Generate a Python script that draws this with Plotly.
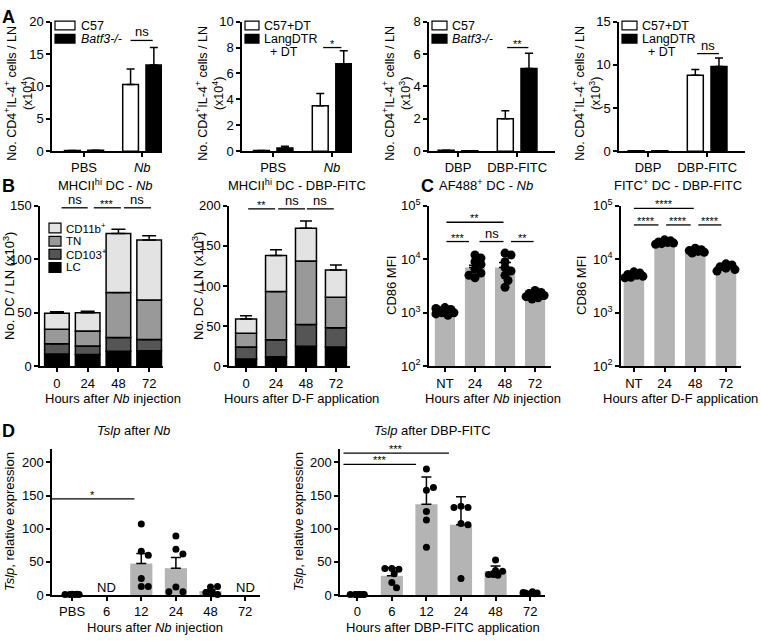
import numpy as np
import plotly.graph_objects as go

W, H = 761, 643
FONT = "Liberation Sans, Arial, Helvetica, sans-serif"
GRAY = "#b4b4b4"

# ---------------- DATA ----------------
# Panel A
a1_cats = ["PBS", "<i>Nb</i>"]
a1_c57 = [0.1, 10.3]
a1_c57_err = [0.0, 2.4]
a1_batf3 = [0.15, 13.3]
a1_batf3_err = [0.0, 2.7]

a2_cats = ["PBS", "<i>Nb</i>"]
a2_c57dt = [0.05, 3.5]
a2_c57dt_err = [0.0, 0.95]
a2_lang = [0.25, 6.75]
a2_lang_err = [0.12, 1.0]

a3_cats = ["DBP", "DBP-FITC"]
a3_c57 = [0.05, 2.0]
a3_c57_err = [0.0, 0.5]
a3_batf3 = [0.03, 5.1]
a3_batf3_err = [0.0, 0.95]

a4_cats = ["DBP", "DBP-FITC"]
a4_c57dt = [0.05, 8.8]
a4_c57dt_err = [0.0, 0.65]
a4_lang = [0.05, 9.8]
a4_lang_err = [0.0, 1.0]

# Panel B (stacked DC subsets, x10^3)
b_hours = ["0", "24", "48", "72"]
b_subsets = ["LC", "CD103<sup>+</sup>", "TN", "CD11b<sup>+</sup>"]
b_colors = ["#000000", "#555555", "#999999", "#e3e3e3"]
b1_lc = [11.5, 11, 14, 14.5]
b1_lc_err = [1, 2, 1, 1.5]
b1_cd103 = [9.5, 8, 13, 10.5]
b1_cd103_err = [1, 1, 1.5, 1]
b1_tn = [13.5, 14, 42, 37]
b1_tn_err = [1.5, 1.5, 1, 3]
b1_cd11b = [15, 17, 55, 56]
b1_cd11b_err = [1.5, 1.5, 4, 4]

b2_lc = [9, 12, 25, 24]
b2_lc_err = [1, 1.5, 5, 1]
b2_cd103 = [15, 21, 27, 24]
b2_cd103_err = [2, 3.5, 3, 1.5]
b2_tn = [17, 60, 79, 38]
b2_tn_err = [3, 9, 12, 8]
b2_cd11b = [18, 45, 41, 34]
b2_cd11b_err = [4, 7, 9, 6]

# Panel C (CD86 MFI)
c_cats = ["NT", "24", "48", "72"]
c1_mean = [1070, 7000, 7000, 2150]
c1_err = [80, 700, 1700, 100]
c1_dots = [[1250, 1150, 1000, 950, 900, 1000, 1100, 1200],
           [12000, 10500, 9000, 8000, 6500, 5500, 4500, 5000],
           [13000, 12000, 9000, 7000, 6000, 5000, 4000, 3000],
           [2600, 2400, 2300, 2200, 2100, 2000, 1900, 1800]]
c2_mean = [5000, 20500, 14300, 7000]
c2_err = [200, 500, 400, 300]
c2_dots = [[5800, 5500, 5200, 5000, 4800, 4600, 4500],
           [23000, 22000, 21000, 20500, 20000, 19500, 19000],
           [16000, 15000, 14500, 14000, 13500, 13000],
           [8200, 7800, 7200, 6800, 6400, 6000]]

# Panel D (Tslp relative expression)
d1_cats = ["PBS", "6", "12", "24", "48", "72"]
d1_mean = [1.0, None, 47.5, 40.5, 6.0, None]
d1_err = [0.2, 0, 15, 16, 2.2, 0]
d1_dots = [[1.2, 0.8, 1.0, 1.1, 0.9, 1.0], [], [107, 66, 60, 25, 13, 13],
           [89, 69, 62, 12, 5, 5], [12, 13, 4, 2, 1, 3], []]
d1_nd = ["", "ND", "", "", "", "ND"]
d2_cats = ["0", "6", "12", "24", "48", "72"]
d2_mean = [1.0, 29, 137, 106, 36, 3]
d2_err = [0.3, 12, 41, 42, 8, 1.5]
d2_dots = [[1, 1, 1, 1, 1, 1], [40, 39, 40, 32, 19, 11],
           [190, 158, 162, 126, 113, 72], [134, 132, 132, 108, 106, 25],
           [53, 37, 36, 31, 30, 31], [2, 3, 4, 5, 3, 2]]

# ---------------- FIGURE ----------------
fig = go.Figure()
layout = {}
shapes, annots = [], []
P = {}


def axid(n):
    return "" if n == 1 else str(n)


def panel(name, n, xpx, ypx, xr, yr, xlabels, yticks, ylog=False, yticktext=None):
    P[name] = dict(n=n, xpx=xpx, ypx=ypx, xr=xr, yr=yr, log=ylog)
    common = dict(showline=True, linecolor="black", linewidth=1.5, ticks="outside",
                  ticklen=4, tickwidth=1.5, tickcolor="black", showgrid=False,
                  zeroline=False, fixedrange=True,
                  tickfont=dict(family=FONT, size=13, color="black"))
    layout["xaxis" + axid(n)] = dict(common, domain=[xpx[0] / W, xpx[1] / W], range=list(xr),
                                     anchor="y" + axid(n), tickmode="array",
                                     tickvals=list(range(len(xlabels))), ticktext=xlabels)
    ya = dict(common, domain=[1 - ypx[1] / H, 1 - ypx[0] / H], anchor="x" + axid(n),
              tickmode="array", tickvals=yticks)
    if ylog:
        ya.update(type="log", range=[np.log10(yr[0]), np.log10(yr[1])], ticktext=yticktext)
    else:
        ya.update(range=list(yr))
    layout["yaxis" + axid(n)] = ya


def xpix(name, xv):
    p = P[name]
    f = (xv - p["xr"][0]) / (p["xr"][1] - p["xr"][0])
    return p["xpx"][0] + f * (p["xpx"][1] - p["xpx"][0])


def ypix(name, v):
    p = P[name]
    if p["log"]:
        lo, hi = np.log10(p["yr"][0]), np.log10(p["yr"][1])
        f = (np.log10(v) - lo) / (hi - lo)
    else:
        f = (v - p["yr"][0]) / (p["yr"][1] - p["yr"][0])
    return p["ypx"][1] - f * (p["ypx"][1] - p["ypx"][0])


def txt(x, y, s, size=13, angle=0, xanchor="center", yanchor="middle", yshift=0):
    annots.append(dict(x=x / W, y=1 - y / H, xref="paper", yref="paper", text=s,
                       showarrow=False, textangle=angle, xanchor=xanchor, yanchor=yanchor,
                       yshift=yshift, font=dict(family=FONT, size=size, color="black")))


def hline(x0, x1, y, width=1.5):
    shapes.append(dict(type="line", xref="paper", yref="paper", x0=x0 / W, x1=x1 / W,
                       y0=1 - y / H, y1=1 - y / H, line=dict(color="black", width=width)))


def box(x0, x1, y0, y1, color):
    shapes.append(dict(type="rect", xref="paper", yref="paper", x0=x0 / W, x1=x1 / W,
                       y0=1 - y1 / H, y1=1 - y0 / H, fillcolor=color,
                       line=dict(color="black", width=1.2)))


def sig(name, x0, x1, v, s):
    xa, xb = xpix(name, x0), xpix(name, x1)
    yy = ypix(name, v)
    hline(xa, xb, yy, 1.3)
    if "*" in s:
        txt((xa + xb) / 2, yy, s, size=11, yanchor="bottom", yshift=-4)
    else:
        txt((xa + xb) / 2, yy, s, size=13, yanchor="bottom", yshift=-1)


def bar(name, x, y, width, offset, color, err=None, line=None, base=None, capw=4):
    n = P[name]["n"]
    kw = dict(x=x, y=y, width=width, offset=offset,
              marker=dict(color=color, line=dict(color=line or color, width=1.5 if line else 0)),
              xaxis="x" + axid(n), yaxis="y" + axid(n), showlegend=False, hoverinfo="skip")
    if base is not None:
        kw["base"] = base
    if err is not None:
        kw["error_y"] = dict(type="data", array=err, arrayminus=[0] * len(err), symmetric=False,
                             color="black", thickness=1.5, width=capw)
    fig.add_trace(go.Bar(**kw))


def swarm(name, pos, vals, d, maxoff, mind):
    p = P[name]
    ppu = (p["xpx"][1] - p["xpx"][0]) / (p["xr"][1] - p["xr"][0])
    step = d / 3
    cands = [0.0]
    for k in range(1, int(maxoff / step) + 1):
        cands += [k * step, -k * step]
    placed, xs = [], []
    for v in vals:
        yp = ypix(name, v)
        best, bestd = 0.0, -1
        for c in cands:
            md = min([np.hypot(c - a, yp - b) for a, b in placed], default=1e9)
            if md >= mind:
                best = c
                break
            if md > bestd:
                bestd, best = md, c
        placed.append((best, yp))
        xs.append(pos + best / ppu)
    return xs


def dots(name, groups, d, maxoff, mind):
    n = P[name]["n"]
    xs, ys = [], []
    for i, g in enumerate(groups):
        if len(g):
            xs += swarm(name, i, g, d, maxoff, mind)
            ys += list(g)
    fig.add_trace(go.Scatter(x=xs, y=ys, mode="markers", cliponaxis=False,
                             marker=dict(color="black", size=d, line=dict(width=0)),
                             xaxis="x" + axid(n), yaxis="y" + axid(n), showlegend=False,
                             hoverinfo="skip"))


# ---- Panel A ----
AY = (13, 146)
panel("A1", 1, (52, 162), AY, (-0.55, 1.34), (0, 20), a1_cats, [0, 5, 10, 15, 20])
panel("A2", 2, (242, 352), AY, (-0.53, 1.34), (0, 10), a2_cats, [0, 2, 4, 6, 8, 10])
panel("A3", 3, (429, 555), AY, (-0.49, 1.64), (0, 8), a3_cats, [0, 2, 4, 6, 8])
panel("A4", 4, (619, 745), AY, (-0.49, 1.64), (0, 15), a4_cats, [0, 5, 10, 15])

BW = 0.27
for name, cats, w_vals, w_err, b_vals, b_err in [
        ("A1", a1_cats, a1_c57, a1_c57_err, a1_batf3, a1_batf3_err),
        ("A2", a2_cats, a2_c57dt, a2_c57dt_err, a2_lang, a2_lang_err),
        ("A3", a3_cats, a3_c57, a3_c57_err, a3_batf3, a3_batf3_err),
        ("A4", a4_cats, a4_c57dt, a4_c57dt_err, a4_lang, a4_lang_err)]:
    xs = list(range(len(cats)))
    bar(name, xs, w_vals, BW, -0.335, "white", err=w_err, line="black", capw=4)
    bar(name, xs, b_vals, BW, 0.065, "black", err=b_err, line="black", capw=4)

sig("A1", 0.8, 1.18, 17.1, "ns")
sig("A2", 0.85, 1.16, 8.0, "*")
sig("A3", 0.83, 1.19, 6.4, "**")
sig("A4", 0.83, 1.2, 11.3, "ns")

# legends A
L1, L2, L3 = 17, 30.5, 44
LF = 12.5
box(55, 75, L1 - 4.5, L1 + 4.5, "white"); txt(79, L1, "C57", size=LF, xanchor="left")
box(55, 75, L2 - 4.5, L2 + 4.5, "black"); txt(79, L2, "<i>Batf3-/-</i>", size=LF, xanchor="left")
box(245, 259, L1 - 4.5, L1 + 4.5, "white"); txt(262, L1, "C57+DT", size=LF, xanchor="left")
box(245, 259, L2 - 4.5, L2 + 4.5, "black"); txt(262, L2, "LangDTR", size=LF, xanchor="left")
txt(268, L3, "+ DT", size=LF, xanchor="left")
box(432, 447, L1 - 4.5, L1 + 4.5, "white"); txt(450, L1, "C57", size=LF, xanchor="left")
box(432, 447, L2 - 4.5, L2 + 4.5, "black"); txt(450, L2, "<i>Batf3-/-</i>", size=LF, xanchor="left")
box(622, 637, L1 - 4.5, L1 + 4.5, "white"); txt(640, L1, "C57+DT", size=LF, xanchor="left")
box(622, 637, L2 - 4.5, L2 + 4.5, "black"); txt(640, L2, "LangDTR", size=LF, xanchor="left")
txt(646, L3, "+ DT", size=LF, xanchor="left")

ylab_a = "No. CD4<sup>+</sup>IL-4<sup>+</sup> cells / LN<br>(x10<sup>%d</sup>)"
AYC = 87
txt(19, AYC, ylab_a % 4, size=12.5, angle=-90)
txt(210, AYC, ylab_a % 4, size=12.5, angle=-90)
txt(397, AYC, ylab_a % 3, size=12.5, angle=-90)
txt(587, AYC, ylab_a % 3, size=12.5, angle=-90)

# ---- Panel B ----
BY = (202, 367)
panel("B1", 5, (40, 163), BY, (-0.55, 3.45), (0, 150), b_hours, [0, 50, 100, 150])
panel("B2", 6, (229, 350), BY, (-0.57, 3.47), (0, 200), b_hours, [0, 50, 100, 150, 200])

for name, segs, errs, bw, capw in [
        ("B1", [b1_lc, b1_cd103, b1_tn, b1_cd11b], [b1_lc_err, b1_cd103_err, b1_tn_err, b1_cd11b_err], 0.8, 7),
        ("B2", [b2_lc, b2_cd103, b2_tn, b2_cd11b], [b2_lc_err, b2_cd103_err, b2_tn_err, b2_cd11b_err], 0.7, 6)]:
    base = np.zeros(4)
    xs = list(range(4))
    for seg, err, col in zip(segs, errs, b_colors):
        bar(name, xs, seg, bw, -bw / 2, col, err=err, line="black", base=list(base), capw=capw)
        base = base + np.array(seg)

sig("B1", 0.15, 1.0, 148, "ns")
sig("B1", 1.2, 2.08, 148, "***")
sig("B1", 2.18, 3.06, 148, "ns")
sig("B2", 0.07, 0.97, 196, "**")
sig("B2", 1.07, 1.97, 196, "ns")
sig("B2", 2.03, 2.93, 196, "ns")

# legend B
for i, (lab, col) in enumerate(zip(b_subsets[::-1], b_colors[::-1])):
    yc = 225 + i * 13.5
    box(49, 61, yc - 5, yc + 5, col)
    txt(64, yc, lab, size=11.5, xanchor="left")

TY = 181
txt(105, TY, "MHCII<sup>hi</sup> DC - <i>Nb</i>")
txt(297, TY, "MHCII<sup>hi</sup> DC - DBP-FITC")
BYC = (BY[0] + BY[1]) / 2
txt(9, BYC, "No. DC / LN (x10<sup>3</sup>)", angle=-90)
txt(198, BYC, "No. DC / LN (x10<sup>3</sup>)", angle=-90)
XT = 400
txt(113, XT, "Hours after <i>Nb</i> injection")
txt(301, XT, "Hours after D-F application")

# ---- Panel C ----
logticks = [100, 1000, 10000, 100000]
logtext = ["10<sup>2</sup>", "10<sup>3</sup>", "10<sup>4</sup>", "10<sup>5</sup>"]
panel("C1", 7, (429, 551), BY, (-0.53, 3.53), (100, 100000), c_cats, logticks, True, logtext)
panel("C2", 8, (621, 741), BY, (-0.42, 3.49), (100, 100000), c_cats, logticks, True, logtext)
for name, mean, err, dd in [("C1", c1_mean, c1_err, c1_dots), ("C2", c2_mean, c2_err, c2_dots)]:
    bar(name, list(range(4)), mean, 0.67, -0.335, GRAY, err=err, capw=6)
    dots(name, dd, 9, 9, 6)

sig("C1", 0.05, 1.95, 10 ** 4.69, "**")
sig("C1", 0.05, 0.8, 10 ** 4.33, "***")
sig("C1", 1.15, 1.95, 10 ** 4.33, "ns")
sig("C1", 2.2, 2.95, 10 ** 4.33, "**")
sig("C2", 0.0, 1.95, 10 ** 4.95, "****")
sig("C2", 0.0, 0.8, 10 ** 4.64, "****")
sig("C2", 1.05, 1.85, 10 ** 4.64, "****")
sig("C2", 2.1, 2.85, 10 ** 4.64, "****")

txt(486, TY, "AF488<sup>+</sup> DC - <i>Nb</i>")
txt(678, TY, "FITC<sup>+</sup> DC - DBP-FITC")
txt(392, BYC, "CD86 MFI", angle=-90)
txt(582, BYC, "CD86 MFI", angle=-90)
txt(493, XT, "Hours after <i>Nb</i> injection")
txt(760, XT, "Hours after D-F application", xanchor="right")

# ---- Panel D ----
DY = (452, 602)
panel("D1", 9, (52, 260), DY, (-0.58, 5.43), (0, 220), d1_cats, [0, 50, 100, 150, 200])
panel("D2", 10, (340, 545), DY, (-0.5, 5.43), (0, 220), d2_cats, [0, 50, 100, 150, 200])
bar("D1", list(range(6)), d1_mean, 0.64, -0.32, GRAY, err=d1_err, capw=5)
dots("D1", d1_dots, 7, 8, 7)
bar("D2", list(range(6)), d2_mean, 0.64, -0.32, GRAY, err=d2_err, capw=5)
dots("D2", d2_dots, 7, 8, 7)
for i, s in enumerate(d1_nd):
    if s:
        txt(xpix("D1", i), ypix("D1", 12), s)

sig("D1", -0.6, 1.8, 145, "*")
sig("D2", -0.4, 2.65, 214, "***")
sig("D2", -0.4, 1.7, 197, "***")

DT = 433
txt(133, DT, "<i>Tslp</i> after <i>Nb</i>")
txt(432, DT, "<i>Tslp</i> after DBP-FITC")
DYC = (DY[0] + DY[1]) / 2
txt(9, DYC, "<i>Tslp</i>, relative expression", angle=-90)
txt(298, DYC, "<i>Tslp</i>, relative expression", angle=-90)
txt(155, 635, "Hours after <i>Nb</i> injection")
txt(443, 635, "Hours after DBP-FITC application")

# panel letters
for L, x, y in [("A", 8, 8), ("B", 8, 182), ("C", 427, 182), ("D", 8, 433)]:
    txt(x, y, "<b>%s</b>" % L, size=18)

layout.update(width=W, height=H, margin=dict(l=0, r=0, t=0, b=0), paper_bgcolor="white",
              plot_bgcolor="white", barmode="overlay", showlegend=False,
              font=dict(family=FONT, size=13, color="black"), shapes=shapes, annotations=annots)
fig.update_layout(**layout)
fig.write_html("out.html", config={"displayModeBar": False},
               post_script="document.body.style.margin='0';document.body.style.overflow='hidden';")
